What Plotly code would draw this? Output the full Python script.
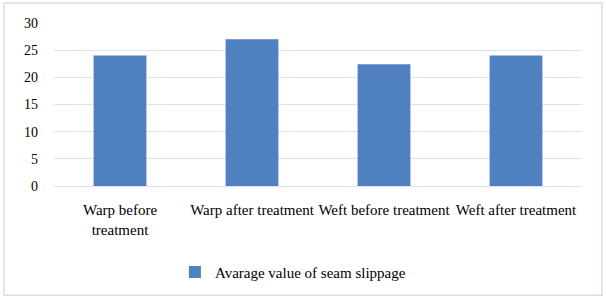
import plotly.graph_objects as go

categories = ["Warp before<br>treatment", "Warp after treatment", "Weft before treatment", "Weft after treatment"]
values = [24, 27, 22.4, 24]
series_name = "Avarage value of seam slippage"

fig = go.Figure()
fig.add_trace(go.Bar(
    x=categories, y=values, name=series_name,
    marker=dict(color="#4f80c0", line=dict(width=0)),
))

fig.update_layout(
    width=606, height=300,
    margin=dict(l=54, r=24, t=23, b=113),
    paper_bgcolor="white", plot_bgcolor="white",
    bargap=0.6,
    font=dict(family="Liberation Serif", size=15, color="#000000"),
    showlegend=True,
    legend=dict(orientation="h", x=0.229, xanchor="left", y=-0.52, yanchor="middle",
                font=dict(size=15), itemwidth=30),
    shapes=[dict(type="rect", xref="paper", yref="paper",
                 x0=-0.0947, x1=1.0379, y0=-0.671, y1=1.122,
                 line=dict(color="#d5dff0", width=1.5), fillcolor="rgba(0,0,0,0)", layer="below")],
)
fig.update_yaxes(range=[0, 30], dtick=5, showgrid=True, gridcolor="#d9e3f0", gridwidth=1,
                 zeroline=False, showline=False, ticks="", ticklabelstandoff=15,
                 tickfont=dict(size=14))
fig.update_xaxes(showline=True, linecolor="#d9e3f0", linewidth=1, ticks="", showgrid=False,
                 tickfont=dict(size=15), ticklabelstandoff=10)

fig.write_html("out.html", config={"displayModeBar": False},
               post_script="document.body.style.margin='0';")
